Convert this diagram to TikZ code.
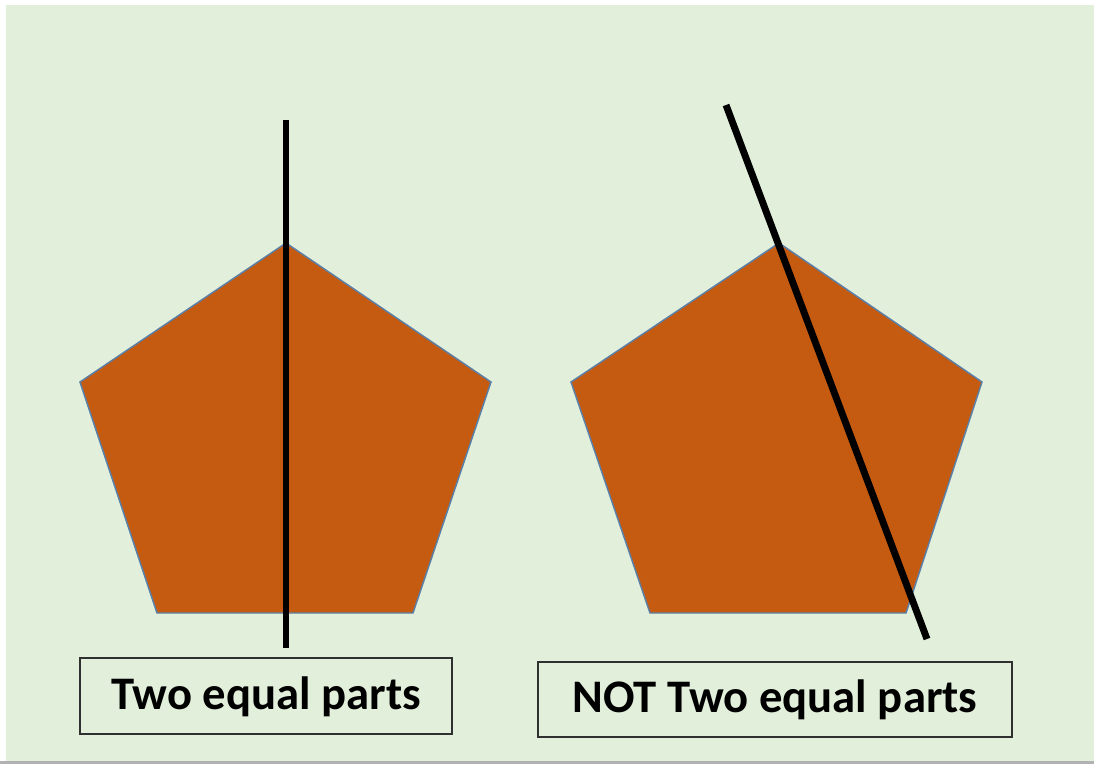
\documentclass[tikz,border=0pt]{standalone}
\usepackage{fontspec}
\setmainfont{Carlito}
\definecolor{bgc}{HTML}{E2EFDA}
\definecolor{pent}{HTML}{C55A11}
\definecolor{pentedge}{HTML}{5B80A8}
\definecolor{boxedge}{HTML}{303030}
\begin{document}
\begin{tikzpicture}[x=0.75pt,y=-0.75pt,
  pentstyle/.style={fill=pent,draw=pentedge,line width=1.1pt,line join=miter},
  cutline/.style={line width=5.2pt,black},
  labelbox/.style={draw=boxedge,line width=1.5pt,fill=bgc,inner sep=0pt,anchor=north west,
    font=\fontsize{35}{40}\selectfont\bfseries}]
\useasboundingbox (0,0) rectangle (1094,764);
\fill[white] (0,0) rectangle (1094,764);
\fill[bgc] (6,5) rectangle (1094,761);
\fill[gray!60] (0,761) rectangle (1094,764);
% left pentagon
\draw[pentstyle] (286,243) -- (491,382) -- (413,613) -- (157,613) -- (80,382) -- cycle;
% right pentagon
\draw[pentstyle] (779,243) -- (982,382) -- (906,613) -- (650,613) -- (571,382) -- cycle;
% lines
\coordinate (a1) at (286,120);
\coordinate (a2) at (286,648);
\coordinate (b1) at (726,105);
\coordinate (b2) at (927,639);
\draw[cutline] (a1) -- (a2);
\draw[cutline] (b1) -- (b2);
% label boxes
\draw[boxedge,line width=1.5pt,fill=bgc] (80,658) rectangle (452,734);
\node[font=\fontsize{35}{40}\selectfont\bfseries] (t1) at (266,697) {Two equal parts};
\draw[boxedge,line width=1.5pt,fill=bgc] (538,662) rectangle (1012,737);
\node[font=\fontsize{35}{40}\selectfont\bfseries] (t2) at (775,700) {NOT Two equal parts};
\end{tikzpicture}
\end{document}
